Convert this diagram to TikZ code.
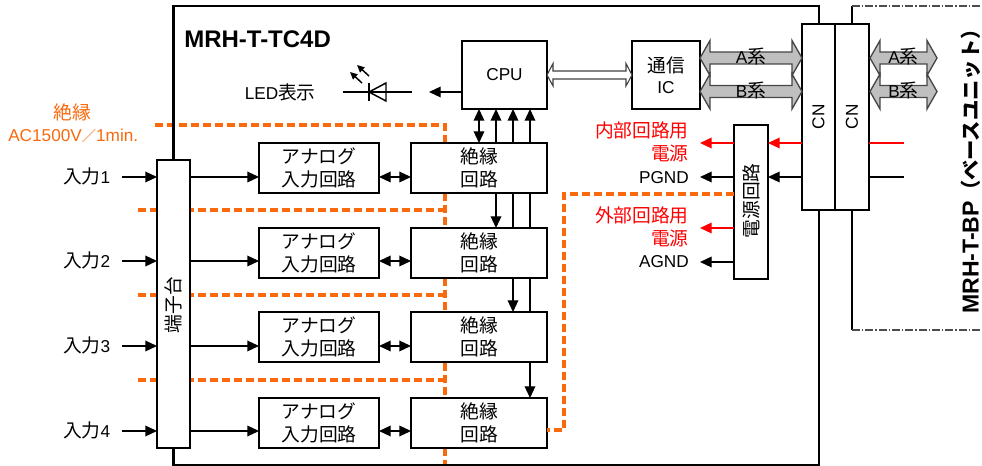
\documentclass[tikz,border=0pt]{standalone}
\usepackage{fontspec}
\setmainfont{Liberation Sans}
\newfontfamily\cjk[Scale=1.09]{Noto Sans CJK JP}
\newfontfamily\cjkbp[Scale=0.88]{Noto Sans CJK JP}
\newfontfamily\cjkslash[Scale=0.83]{Noto Sans CJK JP}
\newcommand{\jp}[1]{{\cjk #1}}
\usetikzlibrary{arrows.meta}
\definecolor{orangeline}{HTML}{F9690E}
\definecolor{grayfill}{HTML}{BFBFBF}
\tikzset{
  x=0.75pt,y=-0.75pt,
  txt/.style={font=\fontsize{12.9pt}{15pt}\selectfont,inner sep=0pt,align=center},
  box/.style={draw=black,fill=white,line width=1.3pt,outer sep=0pt,minimum width=0pt,minimum height=0pt,inner sep=0pt,txt},
  frameline/.style={line width=2.2pt,black},
  arr/.style={line width=1.1pt,-{Triangle[length=8.8pt,width=8pt]}},
  darr/.style={line width=1.1pt,{Triangle[length=8.8pt,width=8pt]}-{Triangle[length=8.8pt,width=8pt]}},
  redarr/.style={arr,red},
  isoline/.style={draw=orangeline,line width=2.4pt,dash pattern=on 6pt off 3pt},
  bus/.style={draw=black!72,fill=grayfill,line width=1pt},
  hollow/.style={draw=black!75,fill=white,line width=0.8pt},
  dd/.style={black!70,line width=0.9pt,dash pattern=on 6pt off 1.5pt on 1pt off 1.5pt},
}
\begin{document}
\begin{tikzpicture}
\useasboundingbox (0,0) rectangle (982,466);
% orange isolation lines behind
\coordinate (i1a) at (155,125); \coordinate (i1b) at (445,125);
\coordinate (i2a) at (138,210); \coordinate (i2b) at (445,210);
\coordinate (i3a) at (138,295); \coordinate (i3b) at (445,295);
\coordinate (i4a) at (138,380); \coordinate (i4b) at (445,380);
\draw[isoline] (i1a) -- (i1b) -- (445,143);
\draw[isoline] (i2a) -- (i2b);
\draw[isoline] (445,193) -- (445,228);
\draw[isoline] (i3a) -- (i3b);
\draw[isoline] (445,278) -- (445,312);
\draw[isoline] (i4a) -- (i4b);
\draw[isoline] (445,363) -- (445,398);
\draw[isoline] (445,448) -- (445,466);
% outer frames
\draw[frameline] (173.5,160) -- (173.5,6) -- (819,6) -- (819,24);
\draw[frameline] (173.5,448) -- (173.5,465) -- (819,465) -- (819,210);
\draw[frameline] (852,24) -- (852,6);
\draw[frameline] (852,210) -- (852,330);
\draw[dd] (852,6) -- (982,6);
\draw[dd] (852,330) -- (982,330);
% boxes
\node[box,anchor=north west,minimum width=25pt,minimum height=216pt] (term) at (157,160) {};
\node[txt,rotate=90] (termlab) at (173.5,305) {\jp{端子台}};
\node[box,anchor=north west,minimum width=63.75pt,minimum height=51pt] (cpu) at (462,41) {CPU};
\node[box,anchor=north west,minimum width=51pt,minimum height=51pt] (ic) at (632,41) {\jp{通信}\\[1pt]IC};
\foreach \n/\y in {1/143,2/228,3/312,4/398}{
  \node[box,anchor=north west,minimum width=90pt,minimum height=37.5pt] (an\n) at (259,\y) {\jp{アナログ}\\[2pt]\jp{入力回路}};
  \node[box,anchor=north west,minimum width=102pt,minimum height=37.5pt] (is\n) at (411,\y) {\jp{絶縁}\\[2pt]\jp{回路}};
}
\node[box,anchor=north west,minimum width=25.5pt,minimum height=139.5pt] (cn1) at (802,24) {};
\node[box,anchor=north west,minimum width=25.5pt,minimum height=139.5pt] (cn2) at (835,24) {};
\node[txt,rotate=90] (cn1lab) at (818.5,117) {CN};
\node[txt,rotate=90] (cn2lab) at (852,117) {CN};
\node[box,anchor=north west,minimum width=25.5pt,minimum height=115.5pt] (psu) at (734,125) {};
\node[txt,rotate=90] (psulab) at (751,201) {\jp{電源回路}};
% isolation to right
\coordinate (o1) at (564,194); \coordinate (o2) at (564,430);
\draw[isoline] (psu.west |- o1) -- (o1) -- (o2) -- (is4.east |- o2);
% labels
\node[txt,orangeline] (isolab1) at (72,112.5) {\jp{絶縁}};
\node[txt,orangeline,anchor=west] (isolab2) at (8,136) {AC1500V{\cjkslash ／}1min.};
\node[txt,font=\fontsize{18pt}{20pt}\selectfont\bfseries,anchor=west] (title) at (184,39) {MRH-T-TC4D};
\node[txt,anchor=east] (ledlab) at (316,92) {LED\jp{表示}};
\node[txt,font=\fontsize{17.3pt}{20pt}\selectfont\bfseries,rotate=90,anchor=west] (bp) at (971,314) {MRH-T-BP{\cjkbp （ベースユニット）}};
% inputs
\foreach \n/\y in {1/177,2/261,3/346,4/431}{
  \node[txt,anchor=east] (in\n) at (110.5,\y-1) {\jp{入力}\n};
  \coordinate (ins\n) at (122,\y);
  \draw[arr] (ins\n) -- (term.west |- ins\n);
  \draw[arr] (term.east |- ins\n) -- (an\n.west |- ins\n);
  \draw[darr] (an\n.east |- ins\n) -- (is\n.west |- ins\n);
}
% CPU links
\draw[darr] (479,109) -- (479,143);
\draw[arr] (496,143) -- (496,109);
\draw[arr] (513,143) -- (513,109);
\draw[arr] (530,143) -- (530,109);
\draw[arr] (496,193) -- (496,228);
\draw[line width=1.1pt] (513,193) -- (513,228);
\draw[line width=1.1pt] (530,193) -- (530,228);
\draw[arr] (513,278) -- (513,312);
\draw[line width=1.1pt] (530,278) -- (530,312);
\draw[arr] (530,363) -- (530,398);
% LED
\coordinate (ledend) at (429,92);
\draw[arr] (cpu.west |- ledend) -- (ledend);
\coordinate (la) at (343,92); \coordinate (lb) at (412,92);
\draw[line width=1.1pt] (la) -- (lb);
\draw[line width=1.1pt] (369,83) -- (369,101);
\draw[line width=1.1pt] (369,92) -- (386,83) -- (386,101) -- cycle;
\draw[line width=1.1pt,-{Triangle[length=5.5pt,width=5pt]}] (362,83) -- (350,72);
\draw[line width=1.1pt,-{Triangle[length=5.5pt,width=5pt]}] (369,76) -- (357,65);
% hollow arrow
\draw[hollow] (547,75) -- (553,63.5) -- (553,71) -- (626,71) -- (626,63.5) -- (632,75) -- (626,86) -- (626,79) -- (553,79) -- (553,86) -- cycle;
% buses
\foreach \xa/\xb in {700/802,870/937}{
  \foreach \y/\t in {58/A,91.5/B}{
    \draw[bus] (\xa,\y) -- ({\xa+10},{\y-17.5}) -- ({\xa+10},{\y-6}) -- ({\xb-10},{\y-6}) -- ({\xb-10},{\y-17.5}) -- (\xb,\y) -- ({\xb-10},{\y+17.5}) -- ({\xb-10},{\y+6}) -- ({\xa+10},{\y+6}) -- ({\xa+10},{\y+17.5}) -- cycle;
    \node[txt] at ({(\xa+\xb)/2},{\y-1}) {\t\jp{系}};
  }
}
% power
\coordinate (r1) at (904,143); \coordinate (k1) at (904,177);
\coordinate (r1e) at (700,143); \coordinate (k1e) at (700,177);
\coordinate (r2e) at (700,228); \coordinate (k2e) at (700,262);
\draw[red,line width=1.1pt] (r1) -- (cn2.east |- r1);
\draw[line width=1.1pt] (k1) -- (cn2.east |- k1);
\draw[redarr] (cn1.west |- r1) -- (psu.east |- r1);
\draw[arr] (cn1.west |- k1) -- (psu.east |- k1);
\draw[redarr] (psu.west |- r1e) -- (r1e);
\draw[arr] (psu.west |- k1e) -- (k1e);
\draw[redarr] (psu.west |- r2e) -- (r2e);
\draw[arr] (psu.west |- k2e) -- (k2e);
\node[txt,red,align=right,anchor=east] (int) at (689,142) {\jp{内部回路用}\\[2pt]\jp{電源}};
\node[txt,anchor=east] (pgnd) at (689,178) {PGND};
\node[txt,red,align=right,anchor=east] (ext) at (689,227) {\jp{外部回路用}\\[2pt]\jp{電源}};
\node[txt,anchor=east] (agnd) at (689,262) {AGND};
\end{tikzpicture}
\end{document}
